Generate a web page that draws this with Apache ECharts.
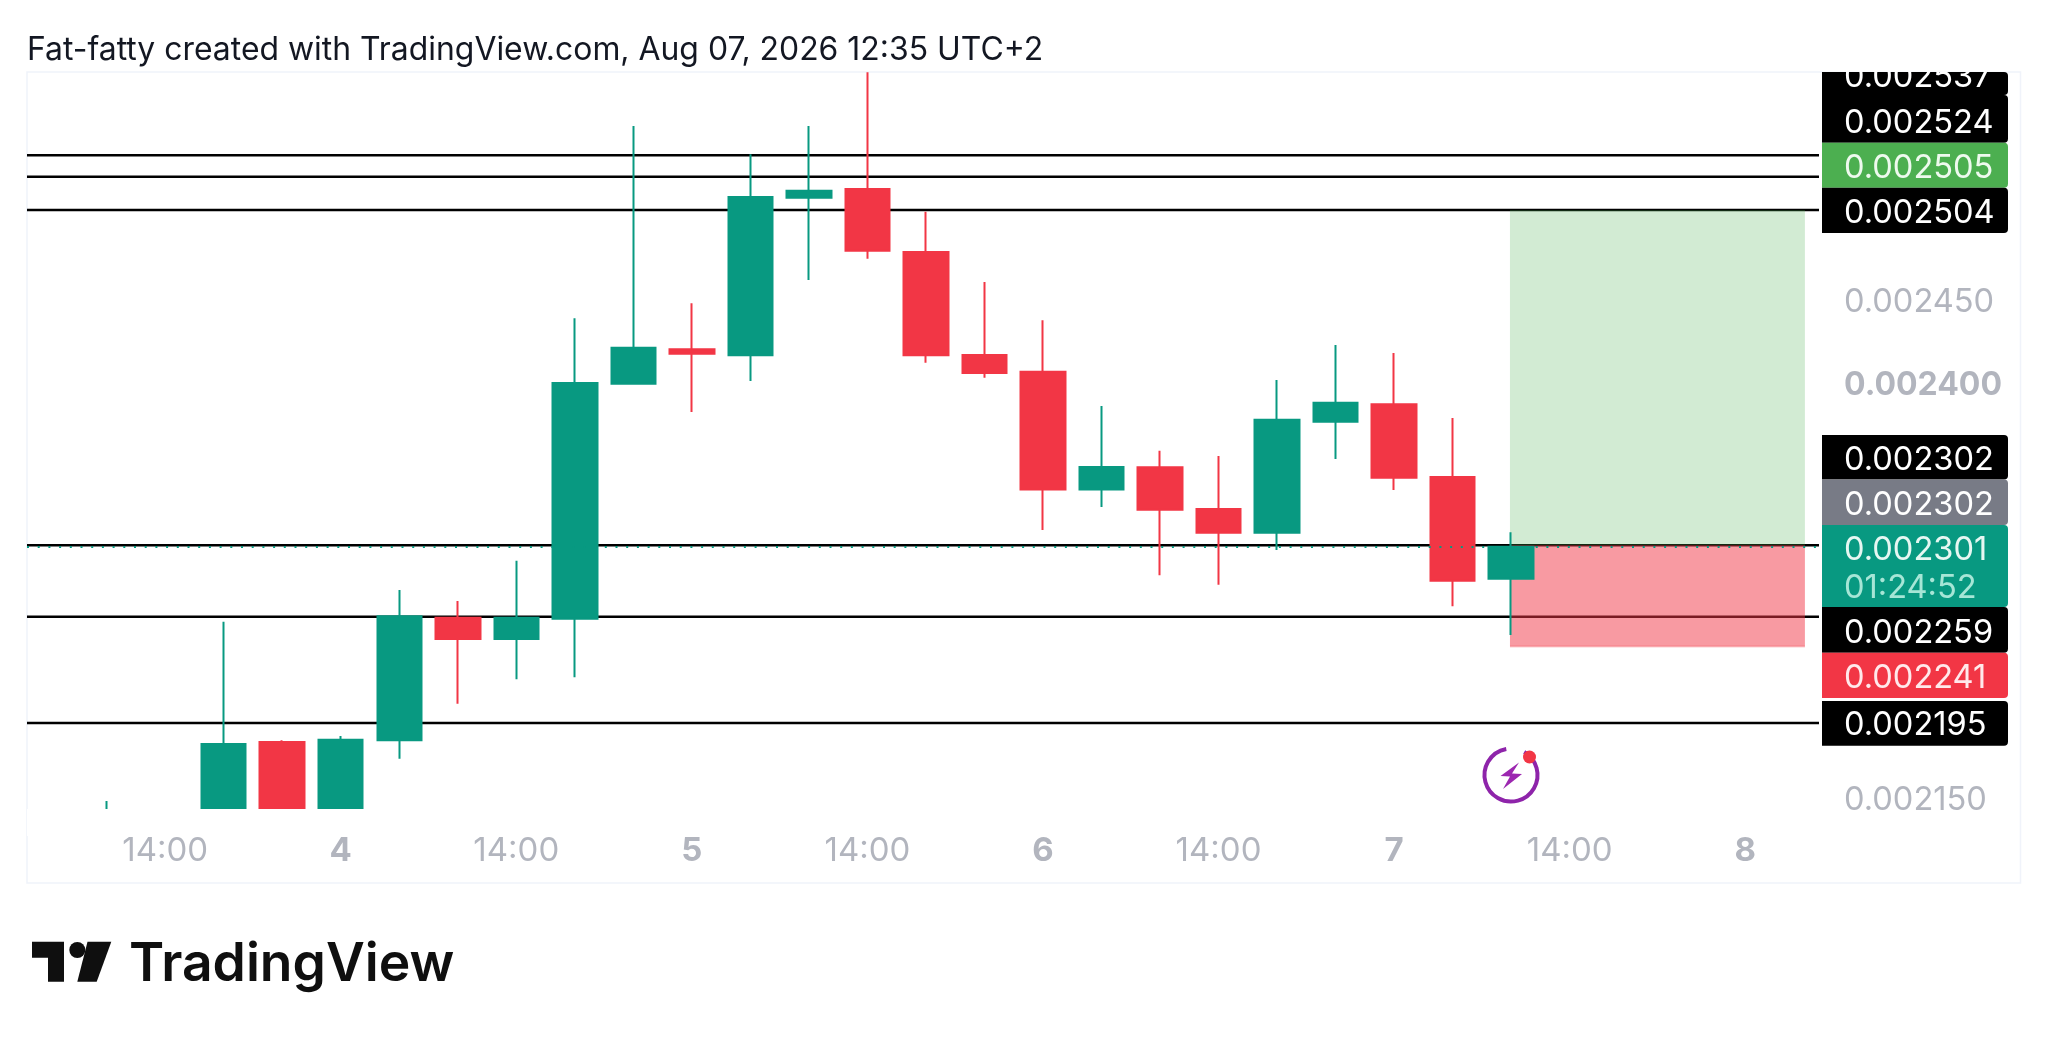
<!DOCTYPE html>
<html>
<head>
<meta charset="utf-8">
<style>html,body{margin:0;padding:0;background:#fff}#c{width:2048px;height:1043px}</style>
<script src="https://cdn.jsdelivr.net/npm/echarts@6/dist/echarts.min.js"></script>
</head>
<body>
<div id="c"></div>
<script>
// candle slots, counted in 4-hour bars from the first complete bar
const candleSlot = [-2,0,1,2,3,4,5,6,7,8,9,10,11,12,13,14,15,16,17,18,19,20,21,22];
const openPrice  = [0.0021365,0.0021300,0.0021835,0.0021320,0.0021845,0.0022584,0.0022456,0.0022578,0.0023994,0.0024201,0.0024165,0.0025114,0.0025167,0.0024787,0.0024166,0.0024066,0.0023357,0.0023490,0.0023239,0.0023096,0.0023765,0.0023870,0.0023432,0.0022819];
const closePrice = [0.0021395,0.0021823,0.0021320,0.0021849,0.0022592,0.0022456,0.0022584,0.0023998,0.0024210,0.0024174,0.0025118,0.0025156,0.0024795,0.0024165,0.0024058,0.0023357,0.0023492,0.0023235,0.0023096,0.0023777,0.0023879,0.0023427,0.0022807,0.0023012];
const lowPrice   = [0.0021335,0.0021280,0.0021300,0.0021300,0.0021735,0.0022066,0.0022213,0.0022225,0.0023988,0.0023823,0.0024010,0.0024618,0.0024747,0.0024120,0.0024030,0.0023112,0.0023251,0.0022840,0.0022783,0.0022992,0.0023540,0.0023353,0.0022653,0.0022480];
const highPrice  = [0.0021480,0.0022560,0.0021845,0.0021871,0.0022751,0.0022685,0.0022927,0.0024388,0.0025546,0.0024478,0.0025376,0.0025546,0.0025870,0.0025030,0.0024606,0.0024376,0.0023859,0.0023590,0.0023558,0.0024016,0.0024227,0.0024179,0.0023787,0.0023098];

// horizontal levels and the long-position box
const levelPrices = [0.002537,0.002524,0.002504,0.002302,0.002259,0.002195];
const lastPrice = 0.002301;
const targetPrice = 0.002504;
const entryPrice = 0.002302;
const stopPrice = 0.002241;
const boxSlots = [21.98,27.02];

// axis ticks
const xTickSlots = [-1,2,5,8,11,14,17,20,23,26];
const xTickLabels = ['14:00','4','14:00','5','14:00','6','14:00','7','14:00','8'];
const yTickValues = [0.00215,0.0024,0.00245];
const yTickBold = [0.0024];

// price tags down the right edge
const tagTexts = ['0.002537','0.002524','0.002505','0.002504','0.002302','0.002302','0.002301','0.002259','0.002241','0.002195'];
const countdownText = '01:24:52';
const headerText = 'Fat-fatty created with TradingView.com, Aug 07, 2026 12:35 UTC+2';
const logoText = 'TradingView';

const FONT = 'Inter';
const GREEN = '#089981', RED = '#F23645', GREY = '#B2B5BE';

// geometry
const slotPx = 58.52, slot0 = 223.7;
const gridL = 27, gridR = 1819, gridT = 72, gridB = 808.5;
const pxPerPrice = 1660000, price210 = 0.002504;
const yMax = price210 + (210 - gridT) / pxPerPrice;
const yMin = price210 - (gridB - 210) / pxPerPrice;
const xMin = (gridL - slot0) / slotPx, xMax = (gridR - slot0) / slotPx;

const candles = candleSlot.map((s, i) => [s, openPrice[i], closePrice[i], lowPrice[i], highPrice[i]]);

// tag boxes [top, bottom, colour, text centre, text colour]
const tagBoxes = [
  [72, 95, '#000000', 77.5, '#ffffff'],
  [95, 142.7, '#000000', 123.5, '#ffffff'],
  [142.7, 187.7, '#4CAF50', 168.5, '#eefaee'],
  [187.7, 233, '#000000', 213.5, '#ffffff'],
  [435, 479.5, '#000000', 460.5, '#ffffff'],
  [479.5, 525, '#787B86', 505.5, '#ffffff'],
  [525, 607, GREEN, 550.5, '#e6f7f2'],
  [607, 652.7, '#000000', 633.5, '#ffffff'],
  [652.7, 698, RED, 678.5, '#ffe9eb'],
  [701, 745.7, '#000000', 725.5, '#ffffff']
];
const graphics = [];
graphics.push({type:'rect', z:0, silent:true, shape:{x:27,y:72,width:1993.5,height:811}, style:{fill:'none',stroke:'#F0F3FA',lineWidth:1.5}});
// the pane stops above the time scale: candles running below it are cut off here
graphics.push({type:'rect', z:10, silent:true, shape:{x:27,y:809,width:1792,height:27}, style:{fill:'#ffffff'}});
tagBoxes.forEach((b, i) => {
  graphics.push({type:'rect', z:20, silent:true, shape:{x:1822,y:b[0],width:186,height:b[1]-b[0],r:[0,4,4,0]}, style:{fill:b[2]}});
  graphics.push({type:'text', z:21, silent:true, x:1844, y:b[3], style:{text:tagTexts[i],fill:b[4],font:'32.6px '+FONT,textAlign:'left',textVerticalAlign:'middle'}});
});
graphics.push({type:'rect', z:22, silent:true, shape:{x:1822,y:52,width:186,height:19.5}, style:{fill:'#ffffff'}});
graphics.push({type:'text', z:21, silent:true, x:1844, y:588, style:{text:countdownText,fill:'#a6e6d6',font:'32.6px '+FONT,textAlign:'left',textVerticalAlign:'middle'}});
graphics.push({type:'text', z:21, silent:true, x:27, y:50.5, style:{text:headerText,fill:'#131722',font:'31.9px '+FONT,textAlign:'left',textVerticalAlign:'middle'}});

// event marker
graphics.push({type:'arc', z:15, silent:true, shape:{cx:1511,cy:775,r:26.5,startAngle:-1.05,endAngle:-1.75,clockwise:true}, style:{fill:'none',stroke:'#8E24AA',lineWidth:4}});
graphics.push({type:'circle', z:16, silent:true, shape:{cx:1529.5,cy:757,r:6.5}, style:{fill:'#F23645'}});
graphics.push({type:'polygon', z:15, silent:true, shape:{points:[[1519,762.5],[1500.5,776],[1510,776.5],[1503,789],[1522,774],[1512,773.5]]}, style:{fill:'#9C27B0'}});

// logo
graphics.push({type:'polygon', z:15, silent:true, shape:{points:[[32,941.7],[64,941.7],[64,981.7],[48,981.7],[48,957.7],[32,957.7]]}, style:{fill:'#0F0F0F'}});
graphics.push({type:'circle', z:15, silent:true, shape:{cx:77.3,cy:950,r:8}, style:{fill:'#0F0F0F'}});
graphics.push({type:'polygon', z:15, silent:true, shape:{points:[[87.5,941.7],[111.3,941.7],[96.7,981.7],[77.3,981.7]]}, style:{fill:'#0F0F0F'}});
graphics.push({type:'text', z:15, silent:true, x:129, y:965, style:{text:logoText,fill:'#0F0F0F',font:'600 53.4px '+FONT,textAlign:'left',textVerticalAlign:'middle'}});

const levelSeries = levelPrices.map(p => ({
  type:'line', z:1, silent:true, symbol:'none', animation:false,
  data:[[xMin,p],[xMax,p]],
  lineStyle:{color:'#000000',width:2.5,type:'solid'}
}));

const chart = echarts.init(document.getElementById('c'), null, {renderer:'canvas'});
chart.setOption({
  animation:false,
  backgroundColor:'#ffffff',
  tooltip:{show:false},
  grid:{left:gridL, top:gridT, width:gridR-gridL, height:gridB-gridT, containLabel:false, show:false},
  xAxis:{
    type:'value', min:xMin, max:xMax,
    axisLine:{show:false}, axisTick:{show:false}, splitLine:{show:false},
    axisLabel:{
      customValues:xTickSlots, margin:26, color:GREY, fontFamily:FONT, fontSize:33, showMinLabel:true, showMaxLabel:true, verticalAlign:'top',
      formatter:v=>{
        const t = xTickLabels[xTickSlots.indexOf(v)];
        return t.indexOf(':')<0 ? '{b|'+t+'}' : t;
      },
      rich:{b:{color:GREY,fontFamily:FONT,fontSize:33,fontWeight:'bold'}}
    }
  },
  yAxis:{
    type:'value', position:'right', min:yMin, max:yMax, scale:true,
    axisLine:{show:false}, axisTick:{show:false}, splitLine:{show:false},
    axisLabel:{
      customValues:yTickValues, margin:25, color:GREY, fontFamily:FONT, fontSize:32.6, align:'left', padding:[5,0,0,0],
      formatter:v=>{
        const t = v.toFixed(6);
        return yTickBold.indexOf(v)>=0 ? '{b|'+t+'}' : t;
      },
      rich:{b:{color:GREY,fontFamily:FONT,fontSize:32,fontWeight:'bold'}}
    }
  },
  series:levelSeries.concat([
    {
      type:'candlestick', z:3, barWidth:45, data:candles, silent:true,
      itemStyle:{color:GREEN,color0:RED,borderColor:GREEN,borderColor0:RED,borderWidth:2},
      markArea:{
        z:2, silent:true, animation:false,
        data:[
          [{coord:[boxSlots[0],targetPrice],itemStyle:{color:'rgba(76,175,80,0.25)'}},{coord:[boxSlots[1],entryPrice]}],
          [{coord:[boxSlots[0],entryPrice],itemStyle:{color:'rgba(242,54,69,0.5)'}},{coord:[boxSlots[1],stopPrice]}]
        ]
      }
    },
    {
      type:'line', z:2, silent:true, symbol:'none', animation:false,
      data:[[boxSlots[0],stopPrice],[boxSlots[1],stopPrice]],
      lineStyle:{color:'rgba(242,54,69,0.25)',width:2}
    },
    {
      type:'line', z:4, silent:true, symbol:'none', animation:false,
      data:[[xMin,lastPrice],[xMax,lastPrice]],
      lineStyle:{color:GREEN,width:2,type:[2,8.7]}
    }
  ]),
  graphic:{elements:graphics}
});
</script>
</body>
</html>
